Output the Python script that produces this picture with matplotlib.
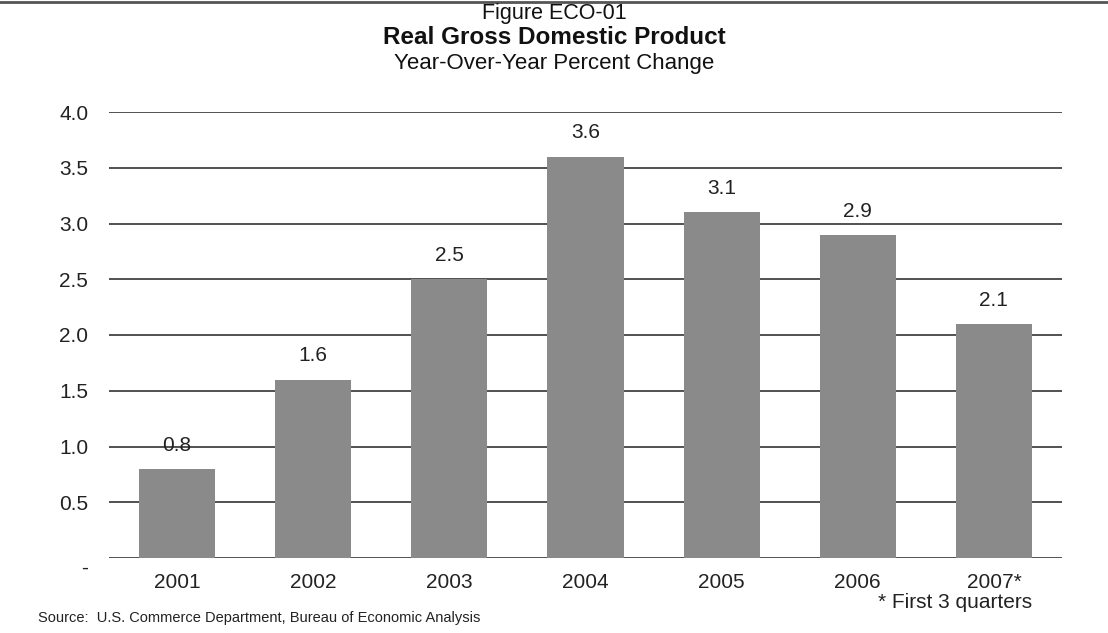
import matplotlib.pyplot as plt
from matplotlib.lines import Line2D
import matplotlib.transforms as mtransforms

plt.rcParams['font.family'] = ['Liberation Sans', 'DejaVu Sans']

years = ['2001', '2002', '2003', '2004', '2005', '2006', '2007*']
gdp_change = [0.8, 1.6, 2.5, 3.6, 3.1, 2.9, 2.1]
yticks = [0.0, 0.5, 1.0, 1.5, 2.0, 2.5, 3.0, 3.5, 4.0]
ytick_labels = ['-', '0.5', '1.0', '1.5', '2.0', '2.5', '3.0', '3.5', '4.0']

fig = plt.figure(figsize=(11.08, 6.33), dpi=100)
ax = fig.add_axes([109 / 1108, 1 - 558 / 633, 953 / 1108, 446 / 633])

# grid under bars
for y in yticks:
    ax.axhline(y, color='#333333', linewidth=1.2, zorder=0)

x = range(len(years))
ax.bar(x, gdp_change, width=0.56, color='#8a8a8a', zorder=2)

for i, v in enumerate(gdp_change):
    ax.annotate(f'{v:.1f}', (i, v), xytext=(0, 17), textcoords='offset points',
                ha='center', va='center', fontsize=15, color='#222222', zorder=3)

ax.set_xlim(-0.5, len(years) - 0.5)
ax.set_ylim(0, 4.0)
ax.set_yticks(yticks)
ax.set_yticklabels(ytick_labels, fontsize=15, color='#222222')
ax.set_xticks(list(x))
ax.set_xticklabels(years, fontsize=15, color='#222222')
ax.tick_params(length=0, pad=15, axis='y')
ax.tick_params(length=0, pad=11, axis='x')
for s in ax.spines.values():
    s.set_visible(False)

# the "-" for zero sits a bit lower in the original
zero_lbl = ax.get_yticklabels()[0]
zero_lbl.set_transform(zero_lbl.get_transform() +
                       mtransforms.ScaledTranslation(0, -6 / 72, fig.dpi_scale_trans))

# top rule
fig.add_artist(Line2D([0, 1], [1 - 2 / 633, 1 - 2 / 633], color='#555555', linewidth=2))

fig.text(0.5, 1 - 13 / 633, 'Figure ECO-01', ha='center', va='center', fontsize=15.5, color='#111111')
fig.text(0.5, 1 - 38 / 633, 'Real Gross Domestic Product', ha='center', va='center',
         fontsize=17.5, fontweight='bold', color='#111111')
fig.text(0.5, 1 - 63 / 633, 'Year-Over-Year Percent Change', ha='center', va='center',
         fontsize=16, color='#111111')

fig.text(955 / 1108, 1 - 602 / 633, '* First 3 quarters', ha='center', va='center',
         fontsize=15, color='#222222')
fig.text(38 / 1108, 1 - 618 / 633, 'Source:  U.S. Commerce Department, Bureau of Economic Analysis',
         ha='left', va='center', fontsize=10.5, color='#222222')

fig.savefig('out.png', dpi=100)
